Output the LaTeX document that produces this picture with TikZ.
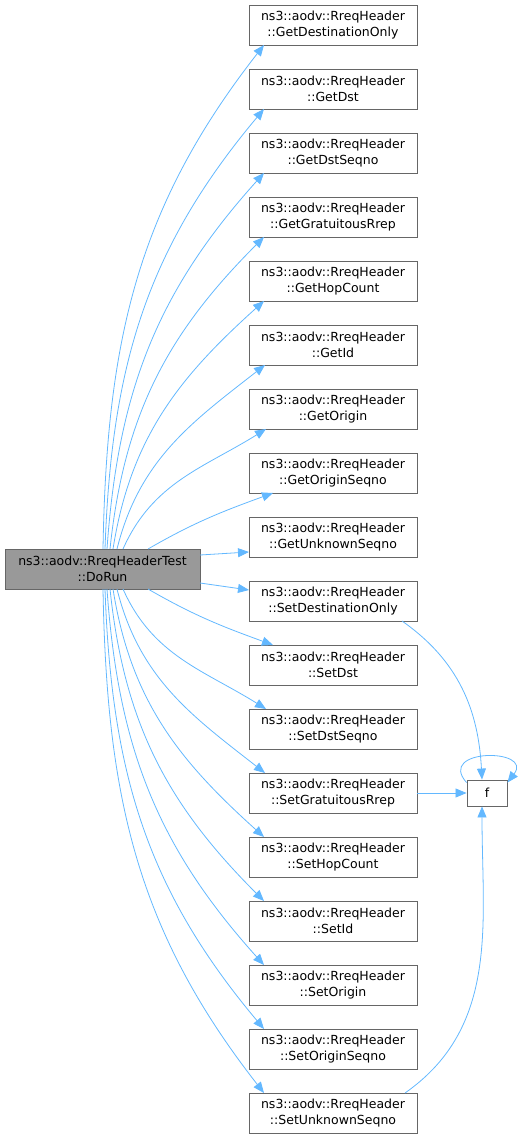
\documentclass[tikz,border=0pt]{standalone}
\usepackage{fontspec}
\setmainfont{DejaVu Sans}
\usetikzlibrary{arrows.meta}
\definecolor{edgeblue}{RGB}{99,184,255}
\definecolor{nodeborder}{RGB}{102,102,102}
\definecolor{mainfill}{RGB}{153,153,153}
\tikzset{
  fnbox/.style={draw=nodeborder, line width=0.9pt, fill=white, minimum width=168pt, minimum height=40pt, inner sep=0pt, align=center, font=\fontsize{12.5}{15.5}\selectfont},
  mainbox/.style={fnbox, fill=mainfill, minimum width=195pt},
  fbox/.style={fnbox, minimum width=40pt, minimum height=26pt},
  edge/.style={draw=edgeblue, line width=0.8pt, -{Triangle[length=11pt,width=9pt]}}
}
\begin{document}
\begin{tikzpicture}[x=1pt,y=1pt]
\useasboundingbox (0,0) rectangle (521,-1139);
\node[mainbox] (main) at (102.5,-569) {ns3::aodv::RreqHeaderTest\\::DoRun};
\foreach \i/\name in {0/GetDestinationOnly,1/GetDst,2/GetDstSeqno,3/GetGratuitousRrep,4/GetHopCount,5/GetId,6/GetOrigin,7/GetOriginSeqno,8/GetUnknownSeqno,9/SetDestinationOnly,10/SetDst,11/SetDstSeqno,12/SetGratuitousRrep,13/SetHopCount,14/SetId,15/SetOrigin,16/SetOriginSeqno,17/SetUnknownSeqno}{
  \node[fnbox] (n\i) at (333,{-(25+64*\i)}) {ns3::aodv::RreqHeader\\::\name};
}
\node[fbox] (f) at (487,-793) {f};
% upper edges
\foreach \i/\sx/\ex/\o/\n in {0/103/264/89/232,1/105/264/88/230,2/107/264/86/228,3/110/264/84/225,4/113/264/81/222,5/117/265/76/218,6/123/266/66/212,7/148/273/30/200}{
  \coordinate (s\i) at (\sx,-549);
  \coordinate (e\i) at (\ex,{-(45+64*\i)});
  \draw[edge] (s\i) to[out=\o,in=\n] (e\i);
}
% lower edges
\foreach \i/\sx/\ex/\o/\n in {10/148/273/-30/160,11/123/266/-66/148,12/117/265/-76/142,13/113/264/-81/138,14/110/264/-84/135,15/107/264/-86/132,16/105/264/-88/130,17/103/264/-89/128}{
  \coordinate (s\i) at (\sx,-589);
  \coordinate (e\i) at (\ex,{-(5+64*\i)});
  \draw[edge] (s\i) to[out=\o,in=\n] (e\i);
}
\coordinate (s8) at (200,-555);
\coordinate (e8) at (249,-552);
\draw[edge] (s8) -- (e8);
\coordinate (s9) at (200,-583);
\coordinate (e9) at (249,-590);
\draw[edge] (s9) -- (e9);
% edges to f
\coordinate (d9) at (402,-621);
\draw[edge] (d9) to[out=-35,in=93] ([xshift=-5pt]f.north);
\draw[edge] (n12.east) -- (f.west);
\coordinate (d17) at (405,-1093);
\draw[edge] (d17) to[out=35,in=-90] ([xshift=-5pt]f.south);
\draw[edge] ([yshift=-3pt]f.north west) .. controls (436,-748) and (534,-748) .. ([yshift=-3pt]f.north east);
\end{tikzpicture}
\end{document}
